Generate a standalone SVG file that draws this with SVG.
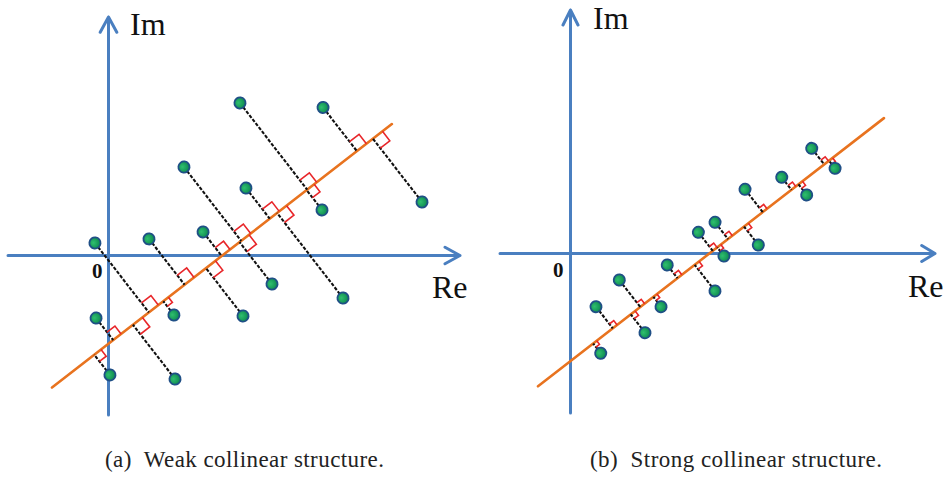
<svg xmlns="http://www.w3.org/2000/svg" width="949" height="479" viewBox="0 0 949 479">
<defs>
<radialGradient id="dotFill" cx="0.4" cy="0.4" r="0.6">
<stop offset="0" stop-color="#2fbf6e"/>
<stop offset="1" stop-color="#0e8a50"/>
</radialGradient>
</defs>
<style>
.axis{stroke:#4a7fc0;stroke-width:3;fill:none;stroke-linecap:round;stroke-linejoin:round}
.fit{stroke:#e8731f;stroke-width:2.6;fill:none;stroke-linecap:round}
.proj{stroke:#111;stroke-width:2.1;stroke-dasharray:3.5 1.6;fill:none}
.ra{stroke:#e8262a;stroke-width:1.6;fill:none}
.pt{fill:url(#dotFill);stroke:#1f4f86;stroke-width:1.8}
</style>
<rect width="949" height="479" fill="#fff"/>

<!-- Left panel -->
<g id="left-axes">
<path class="axis" d="M108.5,415 V17 M100.2,32.3 L108.5,17 L116.8,32.3"/>
<path class="axis" d="M8,255.5 H460 M445,247.2 L460,255.5 L445,263.8"/>
<text x="130" y="35" font-size="32" font-family="'Liberation Serif', 'DejaVu Serif', serif" fill="#111">Im</text>
<text x="432" y="298" font-size="32" font-family="'Liberation Serif', 'DejaVu Serif', serif" fill="#111">Re</text>
<text x="92" y="278" font-size="21" font-weight="bold" font-family="'Liberation Serif', 'DejaVu Serif', serif" fill="#111">0</text>
</g>
<g id="left-plot" transform="translate(52,387.5) rotate(-37.78)">
<line id="left-fit-line" class="fit" x1="0" y1="0" x2="430" y2="0"/>
<g id="left-connectors">
<path class="proj" d="M322.9,-109.7V0 M385.8,-55.3V0 M239.4,-93.4V0 M275.5,-38.8V0 M322.2,25.1V0 M406.1,80.1V0 M167.7,-58V0 M214.7,-30.4V0 M122.5,-87.9V0 M237.3,53V0 M284.8,107.6V0 M140.8,17.4V0 M194.8,60.5V0 M77.4,-27.9V0 M53.5,25.6V0 M102.4,68.7V0"/>
<path class="ra" d="M322.9,-12h12v12 M385.8,-12h12v12 M239.4,-12h12v12 M275.5,-12h12v12 M322.2,9.5h9.5v-9.5 M406.1,12h12v-12 M167.7,-12h12v12 M214.7,-10.5h10.5v10.5 M122.5,-12h12v12 M237.3,12h12v-12 M284.8,12h12v-12 M140.8,6.5h6.5v-6.5 M194.8,12h12v-12 M77.4,-10h10v10 M53.5,8.5h8.5v-8.5 M102.4,12h12v-12"/>
</g>
<g id="left-points">
<g id="L1"><circle class="pt" cx="322.9" cy="-109.7" r="5.6"/></g>
<g id="L2"><circle class="pt" cx="385.8" cy="-55.3" r="5.6"/></g>
<g id="L3"><circle class="pt" cx="239.4" cy="-93.4" r="5.6"/></g>
<g id="L4"><circle class="pt" cx="275.5" cy="-38.8" r="5.6"/></g>
<g id="L5"><circle class="pt" cx="322.2" cy="25.1" r="5.6"/></g>
<g id="L6"><circle class="pt" cx="406.1" cy="80.1" r="5.6"/></g>
<g id="L7"><circle class="pt" cx="167.7" cy="-58" r="5.6"/></g>
<g id="L8"><circle class="pt" cx="214.7" cy="-30.4" r="5.6"/></g>
<g id="L9"><circle class="pt" cx="122.5" cy="-87.9" r="5.6"/></g>
<g id="L10"><circle class="pt" cx="237.3" cy="53" r="5.6"/></g>
<g id="L11"><circle class="pt" cx="284.8" cy="107.6" r="5.6"/></g>
<g id="L12"><circle class="pt" cx="140.8" cy="17.4" r="5.6"/></g>
<g id="L13"><circle class="pt" cx="194.8" cy="60.5" r="5.6"/></g>
<g id="L14"><circle class="pt" cx="77.4" cy="-27.9" r="5.6"/></g>
<g id="L15"><circle class="pt" cx="53.5" cy="25.6" r="5.6"/></g>
<g id="L16"><circle class="pt" cx="102.4" cy="68.7" r="5.6"/></g>
</g>
</g>

<!-- Right panel -->
<g id="right-axes">
<path class="axis" d="M570.5,413 V10 M563,25 L570.5,10 L578,25"/>
<path class="axis" d="M500,253.5 H935 M921.7,245.5 L935,253.5 L921.7,261.5"/>
<text x="593" y="29" font-size="32" font-family="'Liberation Serif', 'DejaVu Serif', serif" fill="#111">Im</text>
<text x="908" y="297" font-size="32" font-family="'Liberation Serif', 'DejaVu Serif', serif" fill="#111">Re</text>
<text x="553" y="277" font-size="21" font-weight="bold" font-family="'Liberation Serif', 'DejaVu Serif', serif" fill="#111">0</text>
</g>
<g id="right-plot" transform="translate(538,386.3) rotate(-37.78)">
<line id="right-fit-line" class="fit" x1="0" y1="0" x2="437.7" y2="0"/>
<g id="right-connectors">
<path class="proj" d="M362.1,-20.4V0 M368.3,9.7V0 M320.7,-15.9V0 M329.6,13.4V0 M284.3,-28.9V0 M260.7,23.3V0 M240.4,-21.2V0 M221.1,-23.5V0 M226.8,11V0 M198.3,33.1V0 M176.5,-16.7V0 M129.4,-34.2V0 M146,12.5V0 M94.6,-27.4V0 M117.4,23.2V0 M69.8,12.3V0"/>
<path class="ra" d="M362.1,-5.5h5.5v5.5 M368.3,4.5h4.5v-4.5 M320.7,-5.5h5.5v5.5 M329.6,5h5v-5 M284.3,-5.5h5.5v5.5 M260.7,5.5h5.5v-5.5 M240.4,-5.5h5.5v5.5 M221.1,-5.5h5.5v5.5 M226.8,4.5h4.5v-4.5 M198.3,5.5h5.5v-5.5 M176.5,-5.5h5.5v5.5 M129.4,-5.5h5.5v5.5 M146,4.5h4.5v-4.5 M94.6,-5.5h5.5v5.5 M117.4,5.5h5.5v-5.5 M69.8,4.5h4.5v-4.5"/>
</g>
<g id="right-points">
<g id="R1"><circle class="pt" cx="362.1" cy="-20.4" r="5.6"/></g>
<g id="R2"><circle class="pt" cx="368.3" cy="9.7" r="5.6"/></g>
<g id="R3"><circle class="pt" cx="320.7" cy="-15.9" r="5.6"/></g>
<g id="R4"><circle class="pt" cx="329.6" cy="13.4" r="5.6"/></g>
<g id="R5"><circle class="pt" cx="284.3" cy="-28.9" r="5.6"/></g>
<g id="R6"><circle class="pt" cx="260.7" cy="23.3" r="5.6"/></g>
<g id="R7"><circle class="pt" cx="240.4" cy="-21.2" r="5.6"/></g>
<g id="R8"><circle class="pt" cx="221.1" cy="-23.5" r="5.6"/></g>
<g id="R9"><circle class="pt" cx="226.8" cy="11" r="5.6"/></g>
<g id="R10"><circle class="pt" cx="198.3" cy="33.1" r="5.6"/></g>
<g id="R11"><circle class="pt" cx="176.5" cy="-16.7" r="5.6"/></g>
<g id="R12"><circle class="pt" cx="129.4" cy="-34.2" r="5.6"/></g>
<g id="R13"><circle class="pt" cx="146" cy="12.5" r="5.6"/></g>
<g id="R14"><circle class="pt" cx="94.6" cy="-27.4" r="5.6"/></g>
<g id="R15"><circle class="pt" cx="117.4" cy="23.2" r="5.6"/></g>
<g id="R16"><circle class="pt" cx="69.8" cy="12.3" r="5.6"/></g>
</g>
</g>

<g id="captions" font-family="'Liberation Serif', 'DejaVu Serif', serif" font-size="23" fill="#222">
<text x="105" y="467" textLength="279" lengthAdjust="spacing" xml:space="preserve">(a)  Weak collinear structure.</text>
<text x="590" y="467" textLength="292" lengthAdjust="spacing" xml:space="preserve">(b)  Strong collinear structure.</text>
</g>
</svg>
